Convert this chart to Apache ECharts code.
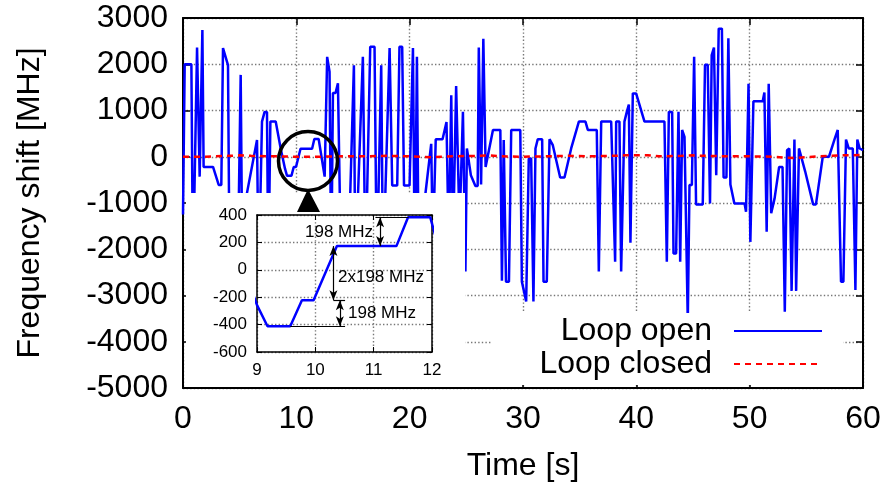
<!DOCTYPE html>
<html>
<head>
<meta charset="utf-8">
<script src="https://cdn.jsdelivr.net/npm/echarts@6/dist/echarts.min.js"></script>
<style>
  html, body { margin: 0; padding: 0; background: #fff; }
  #echart { width: 888px; height: 491px; }
</style>
</head>
<body>
<div id="echart"></div>
<script>
// Loop open: time [s] and frequency shift [MHz]
var openTime = [0, 0.15, 0.74, 0.88, 1.24, 1.47, 1.71, 1.82, 2.65, 3.15, 3.38, 3.53, 3.97, 4.12, 4.8, 5.09, 5.24, 5.4,
  6.53, 6.68, 6.97, 7.2, 7.41, 7.53, 7.71, 8.18, 8.62, 9.0, 9.18, 9.57, 9.77, 9.97, 10.37, 11.39, 11.59, 11.97,
  12.5, 12.72, 12.93, 13.08, 13.23, 13.46, 13.67, 13.81, 13.95, 14.5, 15.08, 15.2, 15.87, 16.1, 16.52, 16.9, 17.1,
  17.49, 17.65, 18.23, 18.46, 18.9, 19.1, 19.34, 19.5, 19.99, 20.29, 20.45, 20.64, 20.8, 21.2, 21.9, 22.05, 22.3,
  22.9, 23.25, 23.45, 23.67, 23.82, 24.1, 24.4, 24.7, 24.92, 25.05, 25.4, 25.8, 26.0, 26.1, 26.3, 26.5, 26.7,
  27.35, 28.0, 28.14, 28.3, 28.5, 28.76, 28.96, 29.76, 29.9, 30.28, 30.51, 30.72, 30.92, 31.1, 31.3, 31.69, 31.81,
  32.1, 32.34, 32.63, 33.28, 33.66, 34.25, 34.93, 35.51, 35.72, 36.51, 36.69, 36.9, 37.78, 38.13, 38.22, 38.51,
  38.66, 38.95, 39.16, 39.34, 39.48, 39.69, 39.98, 40.72, 42.48, 42.69, 42.87, 43.16, 43.28, 43.51, 43.72, 43.87,
  44.04, 44.25, 44.54, 44.69, 44.9, 45.1, 45.27, 45.86, 46.06, 46.3, 46.5, 46.65, 46.85, 47.05, 47.27, 47.55,
  47.7, 47.95, 48.12, 48.3, 48.65, 49.55, 49.68, 49.9, 50.06, 50.33, 51.15, 51.3, 51.5, 51.68, 51.9, 52.2, 52.6,
  52.9, 53.1, 53.3, 53.5, 53.7, 53.95, 54.1, 54.35, 54.9, 55.6, 55.85, 56.45, 57.0, 57.48, 57.77, 58.06, 58.27,
  58.5, 58.74, 59.1, 59.33, 59.5, 59.7, 60];
var openFreq = [-1250, 2000, 2000, -2500, 2360, -430, 2740, -220, -220, -610, -610, 2350, 1980, -2800, -3000, 1770, -2500, -1100,
  360, -2600, 760, 970, 970, -2600, 760, 760, 180, -258, -412, -412, -222, -222, 173, 173, 383, 383,
  -430, 2160, 1840, -2500, 1380, 1380, 1590, 1590, -2500, -3000, 1980, -2500, 2160, -2500, 2380, 2380, -2500,
  1980, -2500, 2350, -620, -620, 2380, 2380, -620, -620, 2350, -2500, 2160, -2500, -1200, 280, -2000, 380,
  380, 750, -2000, 1330, -2000, 1530, -1500, 970, -2480, 180, -400, -630, -630, 2360, -600, 2550, -220,
  580, 580, -2680, 360, -2700, -2700, 580, 580, -2700, -3130, -40, -40, -3130, 180, 380, 380, -2700,
  -2700, 380, 250, -450, -450, 180, 760, 760, 580, 580, -2480, 760, 760, -2270, 760, 760,
  -2480, 760, 970, 1130, -1860, 1370, 1370, 760, 760, -2270, 970, 970, -2090, -2090, 970, -2270,
  580, 430, -3560, -610, -610, 2160, -1030, -1030, 1990, 1990, -1010, 2200, 2360, -400, 2770, 2770,
  -450, -450, 2560, -600, -1010, -1010, -1190, 1580, -1840, 1200, 1200, 1390, -1620, 1580, -1220, -900, -220,
  -220, -3350, 140, 180, -2900, 370, -2900, 180, -320, -1030, -1030, 0, 0, 370, 580, -2700, -2700,
  370, 180, 180, -2880, 370, 180, 140];

// Loop closed
var closedTime = [0, 2, 4, 5, 6, 8, 10, 12, 14, 16, 18, 20, 22, 24, 26, 27, 28, 30, 32, 34, 36, 38, 39, 40, 41,
  42, 44, 45, 46, 48, 50, 52, 53, 54, 55, 56, 57, 58, 59, 60];
var closedFreq = [0, 0, 20, 30, 20, 10, 0, 0, 10, 10, 20, 10, -10, 10, 20, 30, 10, 0, 10, 20, 10, 20, 30, 30, 30,
  10, 20, 30, 20, 10, 10, 0, -20, -30, -10, 10, 20, 30, 30, 40];

var xTicks = { min: 0, max: 60, interval: 10 };
var yTicks = { min: -5000, max: 3000, interval: 1000 };
var insetX = { min: 9, max: 12, interval: 1 };
var insetY = { min: -600, max: 400, interval: 200 };

function zip(a, b) {
  var out = [];
  for (var i = 0; i < a.length; i++) out.push([a[i], b[i]]);
  return out;
}

var font = 'Liberation Sans, Arial, sans-serif';
var gridStyle = { color: '#777', width: 1.4, type: [1.4, 2.2] };

function mainAxis(pos, ticks, labels, extra) {
  var ax = {
    type: 'value', gridIndex: 0, position: pos,
    min: ticks.min, max: ticks.max, interval: ticks.interval,
    axisLine: { show: true, onZero: false, lineStyle: { color: '#000', width: 2 } },
    axisTick: { show: true, inside: true, length: 7, lineStyle: { color: '#000', width: 1.5 } },
    axisLabel: { show: labels, color: '#000', fontSize: 32, fontFamily: font, margin: 15,
      formatter: function (v) { return String(v); } },
    splitLine: { show: labels, lineStyle: gridStyle }
  };
  for (var k in extra) ax[k] = extra[k];
  return ax;
}

function insetAxis(pos, ticks, labels) {
  return {
    type: 'value', gridIndex: 1, position: pos, zlevel: 1, z: 10,
    min: ticks.min, max: ticks.max, interval: ticks.interval,
    axisLine: { show: true, onZero: false, lineStyle: { color: '#000', width: 1.5 } },
    axisTick: { show: true, inside: true, length: 5, lineStyle: { color: '#000', width: 1 } },
    axisLabel: { show: labels, color: '#000', fontSize: 17, fontFamily: font, margin: 10,
      formatter: function (v) { return String(v); } },
    splitLine: { show: labels, lineStyle: gridStyle }
  };
}

var myChart = echarts.init(document.getElementById('echart'), null, { renderer: 'canvas' });

function hline(x1, x2, y) {
  return [{ coord: [x1, y], symbol: 'none' }, { coord: [x2, y], symbol: 'none' }];
}
function arrow(x, y1, y2) {
  return [{ coord: [x, y1] }, { coord: [x, y2] }];
}

var option = {
  animation: false,
  backgroundColor: '#fff',
  grid: [
    { left: 183, top: 18, width: 680, height: 370 },
    { left: 257, top: 215, width: 175, height: 137, zlevel: 1, z: 10 }
  ],
  xAxis: [
    mainAxis('bottom', xTicks, true, {
      name: 'Time [s]', nameLocation: 'middle', nameGap: 62,
      nameTextStyle: { color: '#000', fontSize: 32, fontFamily: font }
    }),
    mainAxis('top', xTicks, false, {}),
    insetAxis('bottom', insetX, true),
    insetAxis('top', insetX, false)
  ],
  yAxis: [
    mainAxis('left', yTicks, true, {
      name: 'Frequency shift [MHz]', nameLocation: 'middle', nameGap: 137,
      nameTextStyle: { color: '#000', fontSize: 32, fontFamily: font }
    }),
    mainAxis('right', yTicks, false, {}),
    insetAxis('left', insetY, true),
    insetAxis('right', insetY, false)
  ],
  legend: {
    orient: 'vertical', align: 'right',
    right: 45, top: 313,
    padding: [2, 20, 5, 48],
    backgroundColor: '#fff',
    itemWidth: 88, itemHeight: 14, itemGap: 1,
    itemStyle: { opacity: 0, borderWidth: 0 },
    textStyle: { color: '#000', fontSize: 32, fontFamily: font, lineHeight: 32, padding: [0, 17, 0, 0] },
    data: ['Loop open', 'Loop closed']
  },
  series: [
    {
      name: 'Loop open', type: 'line', xAxisIndex: 0, yAxisIndex: 0,
      data: zip(openTime, openFreq), symbol: 'none',
      lineStyle: { color: '#0000ff', width: 2.5 }, itemStyle: { color: '#0000ff' }
    },
    {
      name: 'Loop closed', type: 'line', xAxisIndex: 0, yAxisIndex: 0,
      data: zip(closedTime, closedFreq), symbol: 'none',
      lineStyle: { color: '#ff0000', width: 2.5, type: [6, 5] }, itemStyle: { color: '#ff0000' }
    },
    {
      name: 'inset', type: 'line', xAxisIndex: 2, yAxisIndex: 2, zlevel: 1, z: 10,
      data: zip(openTime, openFreq), symbol: 'none', clip: true,
      lineStyle: { color: '#0000ff', width: 2.5 },
      markLine: {
        silent: true, animation: false, zlevel: 1, z: 12,
        symbol: ['arrow', 'arrow'], symbolSize: [6, 10],
        label: { show: false },
        lineStyle: { color: '#000', width: 1.2, type: 'solid' },
        data: [
          hline(11.03, 11.6, 383),
          arrow(11.11, 383, 173),
          arrow(10.31, 173, -222),
          hline(10.31, 10.51, -222),
          arrow(10.42, -222, -412),
          hline(9.57, 10.51, -412)
        ]
      }
    }
  ],
  graphic: {
    elements: [
      { type: 'rect', zlevel: 1, z: 0, z2: 0, silent: true, shape: { x: 186, y: 193, width: 279, height: 194 },
        style: { fill: '#fff' } },
      { type: 'circle', zlevel: 1, z: 20, z2: 20, silent: true, shape: { cx: 308, cy: 161, r: 29.5 },
        style: { fill: 'none', stroke: '#000', lineWidth: 3.5 } },
      { type: 'polygon', zlevel: 1, z: 20, z2: 20, silent: true, shape: { points: [[308, 189], [297, 212], [320, 212]] },
        style: { fill: '#000' } },
      { type: 'text', zlevel: 1, z: 20, z2: 20, silent: true, x: 373, y: 232,
        style: { text: '198 MHz', fill: '#000', font: '17px ' + font, align: 'right', verticalAlign: 'middle' } },
      { type: 'text', zlevel: 1, z: 20, z2: 20, silent: true, x: 338, y: 277,
        style: { text: '2x198 MHz', fill: '#000', font: '17px ' + font, align: 'left', verticalAlign: 'middle' } },
      { type: 'text', zlevel: 1, z: 20, z2: 20, silent: true, x: 348, y: 313,
        style: { text: '198 MHz', fill: '#000', font: '17px ' + font, align: 'left', verticalAlign: 'middle' } }
    ]
  }
};
myChart.setOption(option);
</script>
</body>
</html>
